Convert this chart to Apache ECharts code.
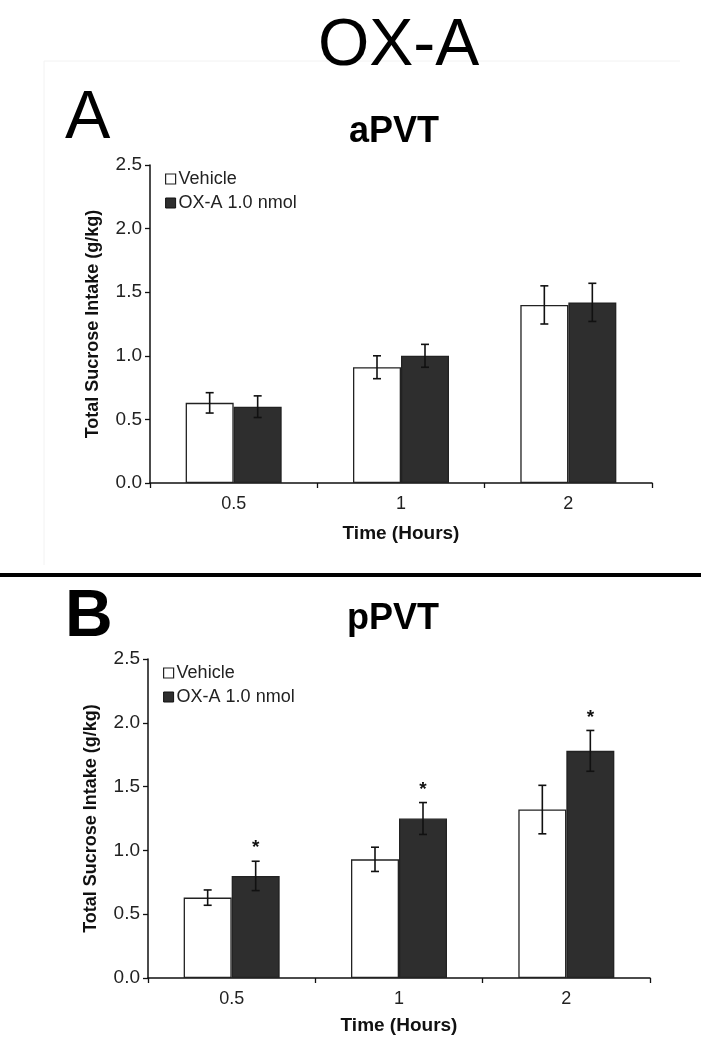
<!DOCTYPE html>
<html><head><meta charset="utf-8">
<script src="https://cdn.jsdelivr.net/npm/echarts@6/dist/echarts.min.js"></script>
<style>html,body{margin:0;padding:0;background:#fff}#c{width:701px;height:1050px}</style>
</head><body><div id="c"></div>
<script>
const categories = ['0.5', '1', '2'];
const yTicks = [0, 0.5, 1.0, 1.5, 2.0, 2.5];
const seriesNames = ['Vehicle', 'OX-A 1.0 nmol'];
// Panel A (aPVT)
const aVehicle = [0.63, 0.91, 1.40];
const aVehicleErr = [0.08, 0.09, 0.15];
const aOx = [0.60, 1.00, 1.42];
const aOxErr = [0.085, 0.09, 0.15];
const aOxSig = [false, false, false];
// Panel B (pPVT)
const pVehicle = [0.63, 0.93, 1.32];
const pVehicleErr = [0.06, 0.095, 0.19];
const pOx = [0.80, 1.25, 1.78];
const pOxErr = [0.115, 0.125, 0.16];
const pOxSig = [true, true, true];

const BAR_W = 48;
const FONT = '"Liberation Sans", Arial, sans-serif';
const chart = echarts.init(document.getElementById('c'), null, {renderer: 'canvas'});

function errSeries(idx, vals, errs, sign, sig) {
  return {
    type: 'custom', xAxisIndex: idx, yAxisIndex: idx, z: 10, silent: true,
    data: vals.map((v, i) => [i, v, errs[i], sig ? (sig[i] ? 1 : 0) : 0]),
    renderItem: function (params, api) {
      const i = api.value(0), v = api.value(1), e = api.value(2), s = api.value(3);
      const c = api.coord([i, v]);
      const x = c[0] + sign * BAR_W / 2;
      const top = api.coord([i, v + e])[1];
      const bot = api.coord([i, v - e])[1];
      const st = {stroke: '#111', lineWidth: 1.6};
      const ch = [
        {type: 'line', shape: {x1: x, y1: top, x2: x, y2: bot}, style: st},
        {type: 'line', shape: {x1: x - 4, y1: top, x2: x + 4, y2: top}, style: st},
        {type: 'line', shape: {x1: x - 4, y1: bot, x2: x + 4, y2: bot}, style: st}
      ];
      if (s) {
        ch.push({type: 'text', style: {text: '*', x: x, y: top - 13, fill: '#111',
          font: 'bold 19px ' + FONT, textAlign: 'center', textVerticalAlign: 'middle'}});
      }
      return {type: 'group', children: ch};
    }
  };
}

function barSeries(idx, name, vals, color) {
  return {
    type: 'bar', name: name, xAxisIndex: idx, yAxisIndex: idx, data: vals,
    barWidth: BAR_W, barGap: '0%',
    itemStyle: {color: color, borderColor: '#222', borderWidth: 1.3}
  };
}

const grids = [
  {left: 150, right: 49, top: 165, height: 318},
  {left: 148, right: 51, top: 659, height: 319}
];

function xAxis(idx, gap) {
  return {
    type: 'category', gridIndex: idx, data: categories,
    name: 'Time (Hours)', nameLocation: 'middle', nameGap: gap,
    nameTextStyle: {fontFamily: FONT, fontWeight: 'bold', fontSize: 19, color: '#111'},
    axisLine: {lineStyle: {color: '#111', width: 1.5}},
    axisTick: {show: true, length: 5, lineStyle: {color: '#111', width: 1.3}},
    axisLabel: {fontFamily: FONT, fontSize: 18, color: '#222', margin: 12}
  };
}
function yAxis(idx) {
  return {
    type: 'value', gridIndex: idx, min: yTicks[0], max: yTicks[yTicks.length - 1], interval: 0.5,
    name: 'Total Sucrose Intake (g/kg)', nameLocation: 'middle', nameGap: 48,
    nameTextStyle: {fontFamily: FONT, fontWeight: 'bold', fontSize: 18, color: '#111'},
    splitLine: {show: false},
    axisLine: {show: true, lineStyle: {color: '#111', width: 1.5}},
    axisTick: {show: true, length: 5, lineStyle: {color: '#111', width: 1.3}},
    axisLabel: {fontFamily: FONT, fontSize: 19, color: '#222', margin: 8,
      formatter: v => v.toFixed(1)}
  };
}

const legendData = [
  {name: seriesNames[0], itemStyle: {color: '#fff', borderColor: '#222', borderWidth: 1.2}},
  {name: seriesNames[1], itemStyle: {color: '#2e2e2e', borderColor: '#111', borderWidth: 1}}
];
function legend(top, left) {
  return {
    orient: 'vertical', left: left, top: top, icon: 'rect', itemWidth: 10, itemHeight: 10,
    itemGap: 6, data: legendData, selectedMode: false,
    textStyle: {fontFamily: FONT, fontSize: 18, color: '#222', padding: [0, 0, 0, -2]}
  };
}

const option = {
  animation: false,
  backgroundColor: '#fff',
  title: [
    {text: 'OX-A', left: 313, top: 9, textStyle: {fontFamily: FONT, fontWeight: 'normal', fontSize: 66, color: '#000'}},
    {text: 'A', left: 60, top: 80, textStyle: {fontFamily: FONT, fontWeight: 'normal', fontSize: 68, color: '#000'}},
    {text: 'aPVT', left: 344, top: 109, textStyle: {fontFamily: FONT, fontWeight: 'bold', fontSize: 36, color: '#000'}},
    {text: 'B', left: 60, top: 580, textStyle: {fontFamily: FONT, fontWeight: 'bold', fontSize: 66, color: '#000'}},
    {text: 'pPVT', left: 342, top: 596, textStyle: {fontFamily: FONT, fontWeight: 'bold', fontSize: 36, color: '#000'}}
  ],
  graphic: [
    {type: 'rect', shape: {x: 0, y: 573, width: 701, height: 4}, style: {fill: '#000'}},
    {type: 'line', shape: {x1: 44, y1: 61, x2: 680, y2: 61}, style: {stroke: '#f2f2f2', lineWidth: 1}},
    {type: 'line', shape: {x1: 44, y1: 61, x2: 44, y2: 565}, style: {stroke: '#f2f2f2', lineWidth: 1}}
  ],
  legend: [legend(165, 160), legend(659, 158)],
  grid: grids,
  xAxis: [xAxis(0, 41), xAxis(1, 38)],
  yAxis: [yAxis(0), yAxis(1)],
  series: [
    barSeries(0, seriesNames[0], aVehicle, '#fff'),
    barSeries(0, seriesNames[1], aOx, '#2e2e2e'),
    barSeries(1, seriesNames[0], pVehicle, '#fff'),
    barSeries(1, seriesNames[1], pOx, '#2e2e2e'),
    errSeries(0, aVehicle, aVehicleErr, -1, null),
    errSeries(0, aOx, aOxErr, 1, aOxSig),
    errSeries(1, pVehicle, pVehicleErr, -1, null),
    errSeries(1, pOx, pOxErr, 1, pOxSig)
  ]
};
chart.setOption(option);
</script></body></html>
